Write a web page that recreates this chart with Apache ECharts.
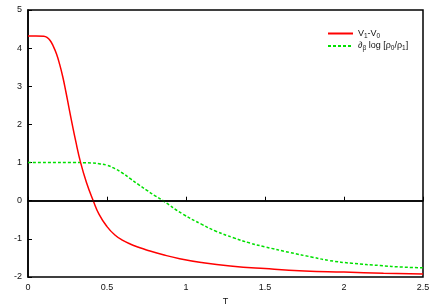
<!DOCTYPE html>
<html>
<head>
<meta charset="utf-8">
<script src="https://cdn.jsdelivr.net/npm/echarts@6/dist/echarts.min.js"></script>
<style>
html,body{margin:0;padding:0;background:#fff;}
#c{width:436px;height:305px;}
</style>
</head>
<body>
<div id="c"></div>
<script>
// Data
var redT   = [0, 0.05, 0.1, 0.12, 0.14, 0.16, 0.18, 0.2, 0.22, 0.24, 0.26, 0.28, 0.3, 0.333, 0.37, 0.413, 0.45, 0.5, 0.55, 0.6, 0.65, 0.7, 0.75, 0.85, 0.96, 1.1, 1.28, 1.5, 1.75, 2.0, 2.25, 2.5];
var redV   = [4.32, 4.32, 4.31, 4.28, 4.2, 4.05, 3.85, 3.58, 3.25, 2.85, 2.42, 2.0, 1.6, 1.0, 0.48, 0.0, -0.36, -0.68, -0.9, -1.04, -1.14, -1.22, -1.29, -1.41, -1.52, -1.62, -1.71, -1.78, -1.84, -1.87, -1.9, -1.92];
var greenT = [0, 0.3, 0.35, 0.4, 0.45, 0.5, 0.55, 0.6, 0.65, 0.7, 0.75, 0.8, 0.855, 0.98, 1.1, 1.19, 1.3, 1.405, 1.5, 1.66, 1.8, 1.91, 2.05, 2.23, 2.37, 2.5];
var greenV = [1, 1, 0.998, 0.99, 0.97, 0.93, 0.84, 0.72, 0.57, 0.42, 0.28, 0.14, 0, -0.35, -0.62, -0.8, -0.97, -1.11, -1.21, -1.36, -1.48, -1.57, -1.64, -1.7, -1.74, -1.76];
var seriesNames = ['V1-V0', 'dlog'];
var xTicks = { min: 0, max: 2.5, step: 0.5 };
var yTicks = { min: -2, max: 5, step: 1 };

function pairs(xs, ys) { return xs.map(function (x, i) { return [x, ys[i]]; }); }

var chart = echarts.init(document.getElementById('c'), null, { renderer: 'canvas' });
var font = 'Liberation Sans, Arial, sans-serif';
chart.setOption({
  animation: false,
  backgroundColor: '#fff',
  grid: { left: 28, right: 13, top: 10, bottom: 28, show: true, borderColor: '#000', borderWidth: 1.5, backgroundColor: 'transparent', containLabel: false, outerBoundsMode: 'none' },
  legend: {
    orient: 'vertical', left: 327, top: 29, padding: 0,
    itemWidth: 25, itemHeight: 8, itemGap: 2,
    data: seriesNames,
    itemStyle: { opacity: 0 },
    textStyle: {
      fontFamily: font, fontSize: 9, color: '#111', padding: [0, 0, 0, 0],
      rich: {
        n: { fontFamily: font, fontSize: 9, color: '#111' },
        s: { fontFamily: font, fontSize: 6.5, color: '#111', padding: [5, 0, 0, 0] }
      }
    },
    formatter: function (name) {
      if (name === 'V1-V0') return '{n|V}{s|1}{n|-V}{s|0}';
      return '{n|\u2202}{s|\u03b2}{n| log [\u03c1}{s|0}{n|/\u03c1}{s|1}{n|]}';
    }
  },
  xAxis: {
    type: 'value', min: xTicks.min, max: xTicks.max, interval: xTicks.step,
    name: 'T', nameLocation: 'middle', nameGap: 19,
    nameTextStyle: { fontFamily: font, fontSize: 9, color: '#111' },
    axisLine: { lineStyle: { color: '#000', width: 1.5 } },
    axisTick: { inside: true, length: 4, lineStyle: { color: '#000', width: 1 } },
    axisLabel: { fontFamily: font, fontSize: 9, color: '#111', margin: 6 },
    splitLine: { show: false }
  },
  yAxis: {
    type: 'value', min: yTicks.min, max: yTicks.max, interval: yTicks.step,
    axisLine: { show: true, lineStyle: { color: '#000', width: 1.5 } },
    axisTick: { show: true, inside: true, length: 4, lineStyle: { color: '#000', width: 1 } },
    axisLabel: { fontFamily: font, fontSize: 9, color: '#111', margin: 6 },
    splitLine: { show: false }
  },
  series: [
    {
      name: seriesNames[0], type: 'line', data: pairs(redT, redV), smooth: 0.5,
      symbol: 'none', color: '#ff0000',
      lineStyle: { color: '#ff0000', width: 1.5 },
      markLine: {
        silent: true, symbol: 'none', label: { show: false },
        lineStyle: { color: '#000', width: 1.5, type: 'solid' },
        data: [{ yAxis: 0 }]
      },
      z: 3
    },
    {
      name: seriesNames[1], type: 'line', data: pairs(greenT, greenV), smooth: 0.5,
      symbol: 'none', color: '#00e000',
      lineStyle: { color: '#00e000', width: 1.5, type: [3, 2] },
      z: 2
    }
  ]
});
</script>
</body>
</html>
